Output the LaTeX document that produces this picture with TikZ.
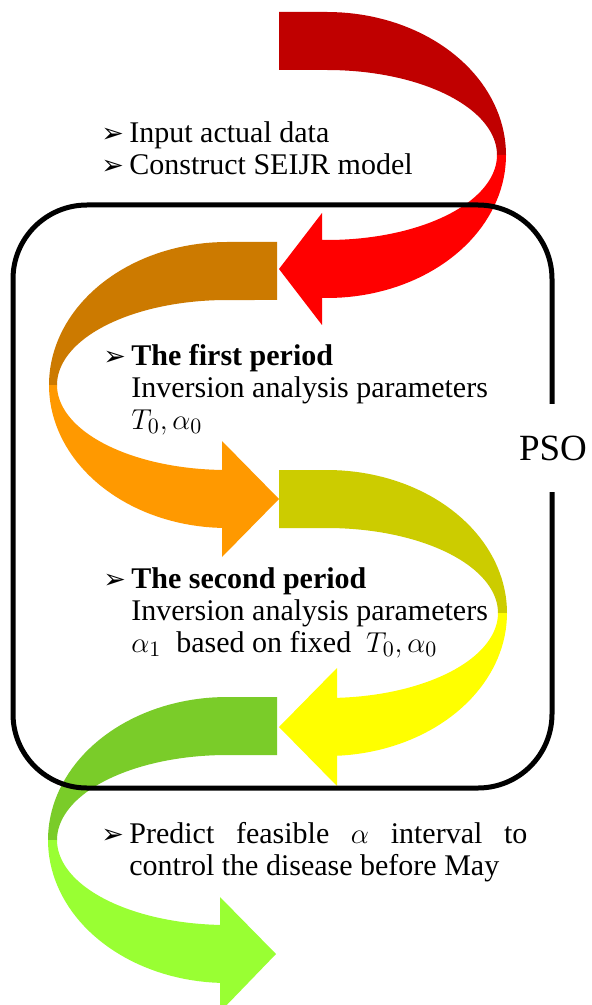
\documentclass[tikz,border=0pt]{standalone}
\usepackage{fontspec}
\setmainfont{Liberation Serif}
\newfontfamily\textserif{Liberation Serif}
\newfontfamily\symfont{DejaVu Sans}
\usepackage{tikz}
\usetikzlibrary{positioning}

\definecolor{redback}{HTML}{C00000}
\definecolor{redfront}{HTML}{FF0000}
\definecolor{orangeback}{HTML}{CC7A00}
\definecolor{orangefront}{HTML}{FF9900}
\definecolor{yellowback}{HTML}{CCCC00}
\definecolor{yellowfront}{HTML}{FFFF00}
\definecolor{greenback}{HTML}{7ACC29}
\definecolor{greenfront}{HTML}{99FF33}

\newcommand{\arrowbullet}{\makebox[14pt][l]{\symfont\fontsize{13.5}{13.5}\selectfont ➢}}

\begin{document}
\begin{tikzpicture}[x=0.5pt, y=-0.5pt,
  txt/.style={anchor=base west, inner sep=0pt, font=\textserif\fontsize{15}{16}\selectfont},
  box/.style={draw=black, line width=2.5pt, rounded corners=37pt}]
\useasboundingbox[fill=white] (0,0) rectangle (592,1005);

% red arrow, turning right
\fill[redback] (279,12) -- plot[domain=90:0, samples=40] ({327+179*cos(\x)}, {155-143*sin(\x)})
  -- plot[domain=0:90, samples=40] ({327+170*cos(\x)}, {155-85*sin(\x)}) -- (279,70) -- cycle;
\fill[redfront] plot[domain=0:-90, samples=40] ({327+179*cos(\x)}, {155-143*sin(\x)})
  -- (322,298) -- (322,325) -- (279,269) -- (322,213) -- (322,240)
  -- plot[domain=-90:0, samples=40] ({327+170*cos(\x)}, {155-85*sin(\x)}) -- cycle;

% orange arrow, turning left
\fill[orangeback] (277,242) -- plot[domain=90:0, samples=40] ({227-178*cos(\x)}, {385-143*sin(\x)})
  -- plot[domain=0:90, samples=40] ({227-170*cos(\x)}, {385-85*sin(\x)}) -- (277,300) -- cycle;
\fill[orangefront] plot[domain=0:-90, samples=40] ({227-178*cos(\x)}, {385-143*sin(\x)})
  -- (222,528) -- (222,557) -- (279,499) -- (222,441) -- (222,470)
  -- plot[domain=-90:0, samples=40] ({227-170*cos(\x)}, {385-85*sin(\x)}) -- cycle;

% yellow arrow, turning right
\fill[yellowback] (279,470) -- plot[domain=90:0, samples=40] ({327+180*cos(\x)}, {613-143*sin(\x)})
  -- plot[domain=0:90, samples=40] ({327+171*cos(\x)}, {613-85*sin(\x)}) -- (279,528) -- cycle;
\fill[yellowfront] plot[domain=0:-90, samples=40] ({327+180*cos(\x)}, {613-143*sin(\x)})
  -- (337,756) -- (337,786) -- (279,727) -- (337,668) -- (337,698)
  -- plot[domain=-90:0, samples=40] ({327+171*cos(\x)}, {613-85*sin(\x)}) -- cycle;

% green arrow, turning left
\fill[greenback] (277,697) -- plot[domain=90:0, samples=40] ({227-179*cos(\x)}, {840-143*sin(\x)})
  -- plot[domain=0:90, samples=40] ({227-170*cos(\x)}, {840-85*sin(\x)}) -- (277,755) -- cycle;
\fill[greenfront] plot[domain=0:-90, samples=40] ({227-179*cos(\x)}, {840-143*sin(\x)})
  -- (220,983) -- (220,1012) -- (276,954) -- (220,897) -- (220,925)
  -- plot[domain=-90:0, samples=40] ({227-170*cos(\x)}, {840-85*sin(\x)}) -- cycle;

% PSO frame
\draw[box] (13,205) rectangle (552,788);

\node[txt] (input) at (101,143) {\begin{tabular}[t]{@{}l@{}}
  \arrowbullet Input actual data\\
  \arrowbullet Construct SEIJR model\end{tabular}};
\node[txt] (first) at (103,365) {\begin{tabular}[t]{@{}l@{}}
  \arrowbullet\textbf{The first period}\\
  \hspace{14pt}Inversion analysis parameters\\
  \hspace{14pt}$T_0,\alpha_0$\end{tabular}};
\node[txt] (second) at (103,588) {\begin{tabular}[t]{@{}l@{}}
  \arrowbullet\textbf{The second period}\\
  \hspace{14pt}Inversion analysis parameters\\
  \hspace{14pt}$\alpha_1$\ \ based on fixed\ \ $T_0,\alpha_0$\end{tabular}};
\node[txt] (predict) at (101,843) {\begin{tabular}[t]{@{}l@{}}
  \arrowbullet\makebox[199pt][s]{Predict feasible $\alpha$ interval to}\\
  \hspace{14pt}control the disease before May\end{tabular}};

\node[fill=white, inner xsep=2pt, inner ysep=0pt, minimum height=44pt,
      font=\textserif\fontsize{18.5}{20}\selectfont] (pso) at (553,448) {PSO};
\end{tikzpicture}
\end{document}
